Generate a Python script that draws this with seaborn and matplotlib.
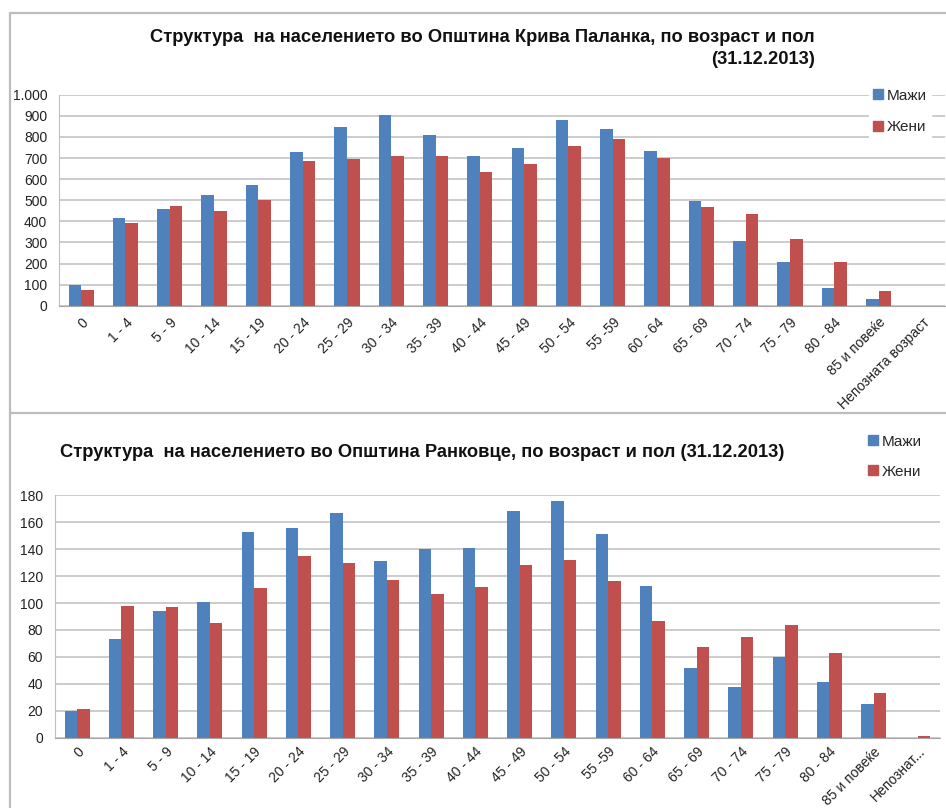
import numpy as np
import pandas as pd
import matplotlib
matplotlib.use("Agg")
import matplotlib.pyplot as plt
from matplotlib.lines import Line2D
import seaborn as sns

# ---- data -------------------------------------------------------------
age_groups_kp = ["0", "1 - 4", "5 - 9", "10 - 14", "15 - 19", "20 - 24", "25 - 29",
                 "30 - 34", "35 - 39", "40 - 44", "45 - 49", "50 - 54", "55 -59",
                 "60 - 64", "65 - 69", "70 - 74", "75 - 79", "80 - 84",
                 "85 и повеќе", "Непозната возраст"]
men_kp = [100, 415, 457, 524, 573, 730, 845, 904, 807, 709,
          746, 881, 836, 733, 498, 305, 205, 82, 33, 0]
women_kp = [73, 393, 471, 447, 502, 687, 695, 711, 711, 633,
            673, 758, 791, 700, 468, 436, 314, 205, 71, 0]

age_groups_rk = ["0", "1 - 4", "5 - 9", "10 - 14", "15 - 19", "20 - 24", "25 - 29",
                 "30 - 34", "35 - 39", "40 - 44", "45 - 49", "50 - 54", "55 -59",
                 "60 - 64", "65 - 69", "70 - 74", "75 - 79", "80 - 84",
                 "85 и повеќе", "Непознат..."]
men_rk = [20, 73, 94, 101, 153, 156, 167, 131, 140, 141,
          168, 176, 151, 113, 52, 38, 60, 41, 25, 0]
women_rk = [21, 98, 97, 85, 111, 135, 130, 117, 107, 112,
            128, 132, 116, 87, 67, 75, 84, 63, 33, 1]

sex_labels = ["Мажи", "Жени"]

yticks_kp = [0, 100, 200, 300, 400, 500, 600, 700, 800, 900, 1000]
yticklabels_kp = ["0", "100", "200", "300", "400", "500", "600", "700", "800", "900", "1.000"]
yticks_rk = [0, 20, 40, 60, 80, 100, 120, 140, 160, 180]
yticklabels_rk = ["0", "20", "40", "60", "80", "100", "120", "140", "160", "180"]

title_kp_1 = "Структура  на населението во Општина Крива Паланка, по возраст и пол"
title_kp_2 = "(31.12.2013)"
title_rk = "Структура  на населението во Општина Ранковце, по возраст и пол (31.12.2013)"

# ---- style ------------------------------------------------------------
sns.set_style("white")
plt.rcParams["font.family"] = ["Liberation Sans", "DejaVu Sans"]

BLUE = "#4F81BD"
RED = "#C0504D"
GRID = "#BFBFBF"
FRAME = "#BDBDBD"

W, H = 946, 808
fig = plt.figure(figsize=(W / 100, H / 100), dpi=100)


def frac(x0, y0, x1, y1):
    """pixel box (top-left origin) -> figure fraction rect"""
    return [x0 / W, 1 - y1 / H, (x1 - x0) / W, (y1 - y0) / H]


def long_form(groups, men, women):
    return pd.DataFrame({
        "age": groups * 2,
        "value": list(men) + list(women),
        "sex": [sex_labels[0]] * len(groups) + [sex_labels[1]] * len(groups),
    })


def draw_panel(ax, groups, men, women, yticks, yticklabels, xpad):
    df = long_form(groups, men, women)
    sns.barplot(data=df, x="age", y="value", hue="sex", order=groups,
                hue_order=sex_labels, palette=[BLUE, RED], width=0.57,
                saturation=1, linewidth=0, ax=ax, legend=False)
    ax.set_xlim(-0.5, len(groups) - 0.5)
    ax.set_ylim(yticks[0], yticks[-1])
    ax.set_yticks(yticks)
    ax.set_yticklabels(yticklabels, fontsize=10, color="#222222")
    ax.set_xlabel("")
    ax.set_ylabel("")
    ax.yaxis.grid(True, color=GRID, lw=1.1)
    ax.set_axisbelow(True)
    for s in ("top", "right"):
        ax.spines[s].set_visible(False)
    ax.spines["left"].set_color(GRID)
    ax.spines["bottom"].set_color("#A6A6A6")
    ax.tick_params(axis="y", length=0, pad=8.5)
    ax.tick_params(axis="x", length=0, pad=xpad)
    for lab in ax.get_xticklabels():
        lab.set_rotation(45)
        lab.set_ha("right")
        lab.set_rotation_mode("anchor")
        lab.set_fontsize(10)
        lab.set_color("#222222")


def add_legend(ax, x_px, y_px, spacing):
    handles = [Line2D([], [], marker="s", ls="none", markersize=6.5,
                      markerfacecolor=c, markeredgecolor=c) for c in (BLUE, RED)]
    leg = ax.legend(handles, sex_labels, loc="upper left",
                    bbox_to_anchor=(x_px / W, 1 - y_px / H),
                    bbox_transform=fig.transFigure, frameon=True,
                    fontsize=11, handlelength=0.6, handletextpad=0.25,
                    labelspacing=spacing, borderpad=0.3, borderaxespad=0)
    leg.get_frame().set_facecolor("white")
    leg.get_frame().set_edgecolor("white")
    leg.get_frame().set_alpha(1)


# ---- upper panel: Крива Паланка ----------------------------------------
ax1 = fig.add_axes(frac(59, 94.7, 945, 305.7))
draw_panel(ax1, age_groups_kp, men_kp, women_kp, yticks_kp, yticklabels_kp, 7)
add_legend(ax1, 869, 84, 1.15)
fig.text(815 / W, 1 - 38 / H, title_kp_1, ha="right", va="center",
         fontsize=13.2, fontweight="bold", color="#111111")
fig.text(815 / W, 1 - 60 / H, title_kp_2, ha="right", va="center",
         fontsize=13.2, fontweight="bold", color="#111111")

# ---- lower panel: Ранковце ---------------------------------------------
ax2 = fig.add_axes(frac(55, 495.3, 940, 737.7))
draw_panel(ax2, age_groups_rk, men_rk, women_rk, yticks_rk, yticklabels_rk, 5)
add_legend(ax2, 864, 430, 1.05)
fig.text(60 / W, 1 - 452 / H, title_rk, ha="left", va="center",
         fontsize=13.2, fontweight="bold", color="#111111")

# ---- chart frames ------------------------------------------------------
for xs, ys in (([10, W], [13, 13]), ([10, 10], [13, H]), ([10, W], [413, 413])):
    fig.add_artist(Line2D([x / W for x in xs], [1 - y / H for y in ys],
                          color=FRAME, lw=1.6, transform=fig.transFigure))

fig.savefig("out.png", dpi=100, facecolor="white")
